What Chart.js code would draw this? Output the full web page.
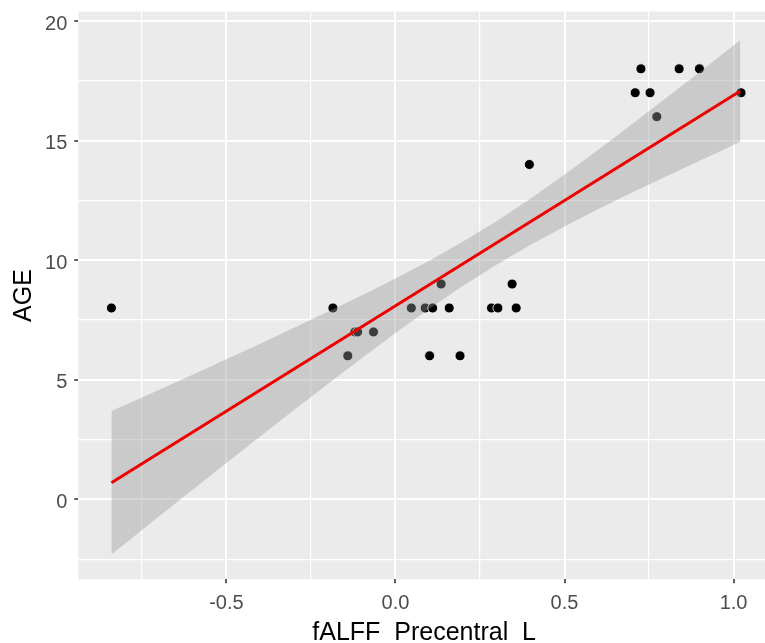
<!DOCTYPE html>
<html><head><meta charset="utf-8">
<script src="https://cdn.jsdelivr.net/npm/chart.js@4.4.1/dist/chart.umd.min.js"></script>
<style>
html,body{margin:0;padding:0;width:765px;height:643px;overflow:hidden;background:#fff;}
canvas{display:block;}
</style></head><body>
<canvas id="c" width="776" height="660"></canvas>
<script>
// observed points
const pointX = [-0.840, -0.185, -0.141, -0.120, -0.112, -0.065, 0.047, 0.088, 0.110, 0.135, 0.101, 0.159, 0.191, 0.284, 0.303, 0.345, 0.357, 0.396, 0.726, 0.709, 0.753, 0.773, 0.839, 0.899, 1.022];
const pointY = [8, 8, 6, 7, 7, 7, 8, 8, 8, 9, 6, 8, 6, 8, 8, 9, 8, 14, 18, 17, 17, 16, 18, 18, 17];
// fitted line (read at its ends)
const fitX = [-0.840, 1.020];
const fitY = [0.69, 17.07];
// confidence band edges read along x
const bandX     = [-0.84, -0.7, -0.6, -0.5, -0.4, -0.3, -0.2, -0.1, 0.0, 0.1, 0.2, 0.3, 0.4, 0.5, 0.6, 0.7, 0.8, 0.9, 1.02];
const bandUpper = [3.69, 4.57, 5.21, 5.86, 6.51, 7.17, 7.84, 8.52, 9.23, 9.98, 10.78, 11.64, 12.58, 13.58, 14.62, 15.69, 16.78, 17.87, 19.21];
const bandLower = [-2.31, -0.72, 0.40, 1.52, 2.63, 3.73, 4.82, 5.90, 6.95, 7.97, 8.93, 9.82, 10.64, 11.41, 12.14, 12.83, 13.50, 14.16, 14.95];
// ticks
const xTicks  = [-0.75, -0.5, -0.25, 0, 0.25, 0.5, 0.75, 1.0];
const xMajor  = [-0.5, 0, 0.5, 1.0];
const xLabels = ['-0.5', '0.0', '0.5', '1.0'];
const yTicks  = [-2.5, 0, 2.5, 5, 7.5, 10, 12.5, 15, 17.5, 20];
const yMajor  = [0, 5, 10, 15, 20];
const yLabels = ['0', '5', '10', '15', '20'];
const xTitle = 'fALFF_Precentral_L';
const yTitle = 'AGE';

const toXY = (xs, ys) => xs.map((x, i) => ({x: x, y: ys[i]}));
const idxOf = (arr, v) => arr.findIndex(m => Math.abs(m - v) < 1e-9);
const FONT = 'Liberation Sans, Arial, sans-serif';

const panelBg = {
  id: 'panelBg',
  beforeDraw(chart) {
    const {ctx, chartArea: a} = chart;
    ctx.save();
    ctx.fillStyle = '#EBEBEB';
    ctx.fillRect(a.left, a.top, a.right - a.left, a.bottom - a.top);
    ctx.restore();
  }
};

function gridOpts(majors) {
  return {
    color: '#FFFFFF',
    lineWidth: c => (c.tick && idxOf(majors, c.tick.value) >= 0) ? 2 : 1.2,
    drawTicks: true,
    tickLength: 4,
    tickWidth: 1.6,
    tickColor: c => (c.tick && idxOf(majors, c.tick.value) >= 0) ? '#333333' : 'rgba(0,0,0,0)'
  };
}

new Chart(document.getElementById('c'), {
  type: 'scatter',
  plugins: [panelBg],
  data: {
    datasets: [
      {
        type: 'line',
        data: toXY(fitX, fitY),
        borderColor: '#EE0000',
        borderWidth: 3,
        pointRadius: 0,
        fill: false,
        tension: 0,
        order: 1
      },
      {
        type: 'line',
        data: toXY(bandX, bandUpper),
        borderWidth: 0,
        borderColor: 'rgba(0,0,0,0)',
        backgroundColor: 'rgba(153,153,153,0.4)',
        pointRadius: 0,
        fill: '+1',
        tension: 0,
        order: 2
      },
      {
        type: 'line',
        data: toXY(bandX, bandLower),
        borderWidth: 0,
        borderColor: 'rgba(0,0,0,0)',
        pointRadius: 0,
        fill: false,
        tension: 0,
        order: 2
      },
      {
        data: toXY(pointX, pointY),
        backgroundColor: '#000000',
        borderColor: 'rgba(255,255,255,0.8)',
        borderWidth: 1,
        pointRadius: 5,
        order: 3
      }
    ]
  },
  options: {
    responsive: false,
    animation: false,
    events: [],
    layout: {padding: {left: 0, top: 11.7, right: 0, bottom: 0}},
    plugins: {legend: {display: false}, tooltip: {enabled: false}},
    scales: {
      x: {
        type: 'linear',
        min: -0.938,
        max: 1.1077,
        afterBuildTicks: s => { s.ticks = xTicks.map(v => ({value: v})); },
        afterFit: s => { s.height = 80.7; s.paddingLeft = 0; s.paddingRight = 0; },
        border: {display: false},
        grid: gridOpts(xMajor),
        ticks: {
          autoSkip: false, maxRotation: 0, minRotation: 0,
          padding: 8.6,
          color: '#4D4D4D',
          font: {family: FONT, size: 20},
          callback: v => { const i = idxOf(xMajor, v); return i >= 0 ? xLabels[i] : ''; }
        },
        title: {
          display: true, text: xTitle, color: '#000000',
          font: {family: FONT, size: 25, lineHeight: 1},
          padding: {top: 0, bottom: 13.9}
        }
      },
      y: {
        type: 'linear',
        min: -3.344,
        max: 20.389,
        afterBuildTicks: s => { s.ticks = yTicks.map(v => ({value: v})); },
        afterFit: s => { s.width = 78.3; s.paddingTop = 0; s.paddingBottom = 0; },
        border: {display: false},
        grid: gridOpts(yMajor),
        ticks: {
          autoSkip: false,
          padding: 7,
          labelOffset: 3,
          color: '#4D4D4D',
          font: {family: FONT, size: 20},
          callback: v => { const i = idxOf(yMajor, v); return i >= 0 ? yLabels[i] : ''; }
        },
        title: {
          display: true, text: yTitle, color: '#000000',
          font: {family: FONT, size: 25, lineHeight: 1},
          padding: {top: 12.1, bottom: 0}
        }
      }
    }
  }
});
</script>
</body></html>
